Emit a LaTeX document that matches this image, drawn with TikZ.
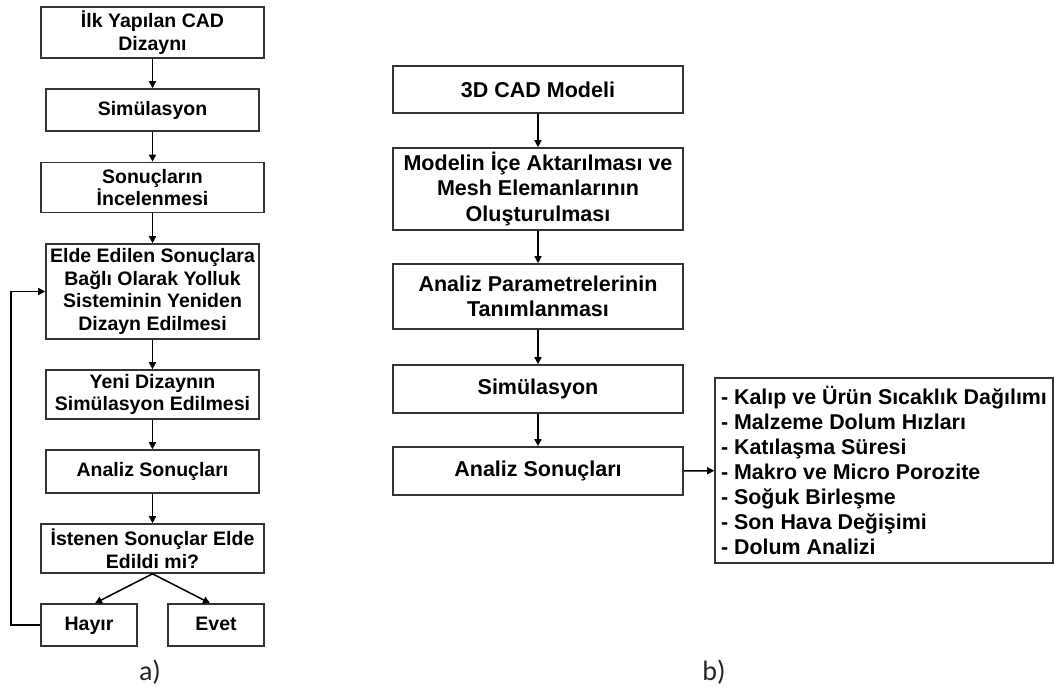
\documentclass[tikz,border=0pt]{standalone}
\usepackage{fontspec}
\setmainfont{Liberation Sans}
\newfontfamily\capfont{Carlito}
\usetikzlibrary{arrows.meta,calc}

\begin{document}
\begin{tikzpicture}[x=1pt, y=-1pt,
    box/.style={draw=black!80, line width=1.6pt, inner sep=0pt, align=center,
        font=\bfseries\fontsize{19.5}{22.7}\selectfont},
    bigbox/.style={box, minimum width=290pt, font=\bfseries\fontsize{21.5}{25.5}\selectfont},
    smallbox/.style={box, minimum width=96pt, minimum height=42pt, text height=14pt, text depth=4pt},
    arr/.style={line width=1.5pt, -{Triangle[length=7pt, width=7pt]}}]
    \useasboundingbox (0, 0) rectangle (1055, 693);
    % a)
    \node[box, minimum width=223pt, minimum height=51pt] (cad) at (152.5, 32.5) {İlk Yapılan CAD\\Dizaynı};
    \node[box, minimum width=213pt, minimum height=42pt] (sim) at (152.5, 110) {Simülasyon};
    \node[box, minimum width=223pt, minimum height=50pt] (inc) at (152.5, 187.5) {Sonuçların\\İncelenmesi};
    \node[box, minimum width=213pt, minimum height=95pt] (yol) at (152.5, 291.5) {Elde Edilen Sonuçlara\\Bağlı Olarak Yolluk\\Sisteminin Yeniden\\Dizayn Edilmesi};
    \node[box, minimum width=213pt, minimum height=49pt] (yeni) at (152.5, 394.5) {Yeni Dizaynın\\Simülasyon Edilmesi};
    \node[box, minimum width=213pt, minimum height=43pt] (anl) at (152.5, 471.5) {Analiz Sonuçları};
    \node[box, minimum width=223pt, minimum height=49pt] (ist) at (152.5, 548.5) {İstenen Sonuçlar Elde\\Edildi mi?};
    \node[smallbox] (hayir) at (89, 625) {Hayır};
    \node[smallbox] (evet) at (216, 625) {Evet};
    \draw[arr] (cad) -- (sim);
    \draw[arr] (sim) -- (inc);
    \draw[arr] (inc) -- (yol);
    \draw[arr] (yol) -- (yeni);
    \draw[arr] (yeni) -- (anl);
    \draw[arr] (anl) -- (ist);
    \draw[arr] (ist.south) -- ($(hayir.north)+(6, 0)$);
    \draw[arr] (ist.south) -- ($(evet.north)+(-6, 0)$);
    \draw[arr] (hayir.west) -- ++(-29, 0) |- (yol.west);
    \node[font=\capfont\fontsize{28}{30}\selectfont, text=black!85] (capa) at (150, 672) {a)};
    % b)
    \node[bigbox, minimum height=47pt] (model) at (538, 89.5) {3D CAD Modeli};
    \node[bigbox, minimum height=82pt] (mesh) at (538, 189) {Modelin İçe Aktarılması ve\\Mesh Elemanlarının\\Oluşturulması};
    \node[bigbox, minimum height=65pt] (param) at (538, 296.5) {Analiz Parametrelerinin\\Tanımlanması};
    \node[bigbox, minimum height=48pt] (simb) at (538, 389) {Simülasyon};
    \node[bigbox, minimum height=48pt] (sonuc) at (538, 471) {Analiz Sonuçları};
    \node[box, align=left, inner xsep=1pt, minimum width=338pt, minimum height=185pt,
        font=\bfseries\fontsize{21.4}{25}\selectfont] (liste) at (884, 470.5)
        {- Kalıp ve Ürün Sıcaklık Dağılımı\\- Malzeme Dolum Hızları\\- Katılaşma Süresi\\- Makro ve Micro Porozite\\- Soğuk Birleşme\\- Son Hava Değişimi\\- Dolum Analizi};
    \draw[arr] (model) -- (mesh);
    \draw[arr] (mesh) -- (param);
    \draw[arr] (param) -- (simb);
    \draw[arr] (simb) -- (sonuc);
    \draw[arr] (sonuc) -- (liste);
    \node[font=\capfont\fontsize{28}{30}\selectfont, text=black!85] (capb) at (714, 672) {b)};
\end{tikzpicture}
\end{document}
